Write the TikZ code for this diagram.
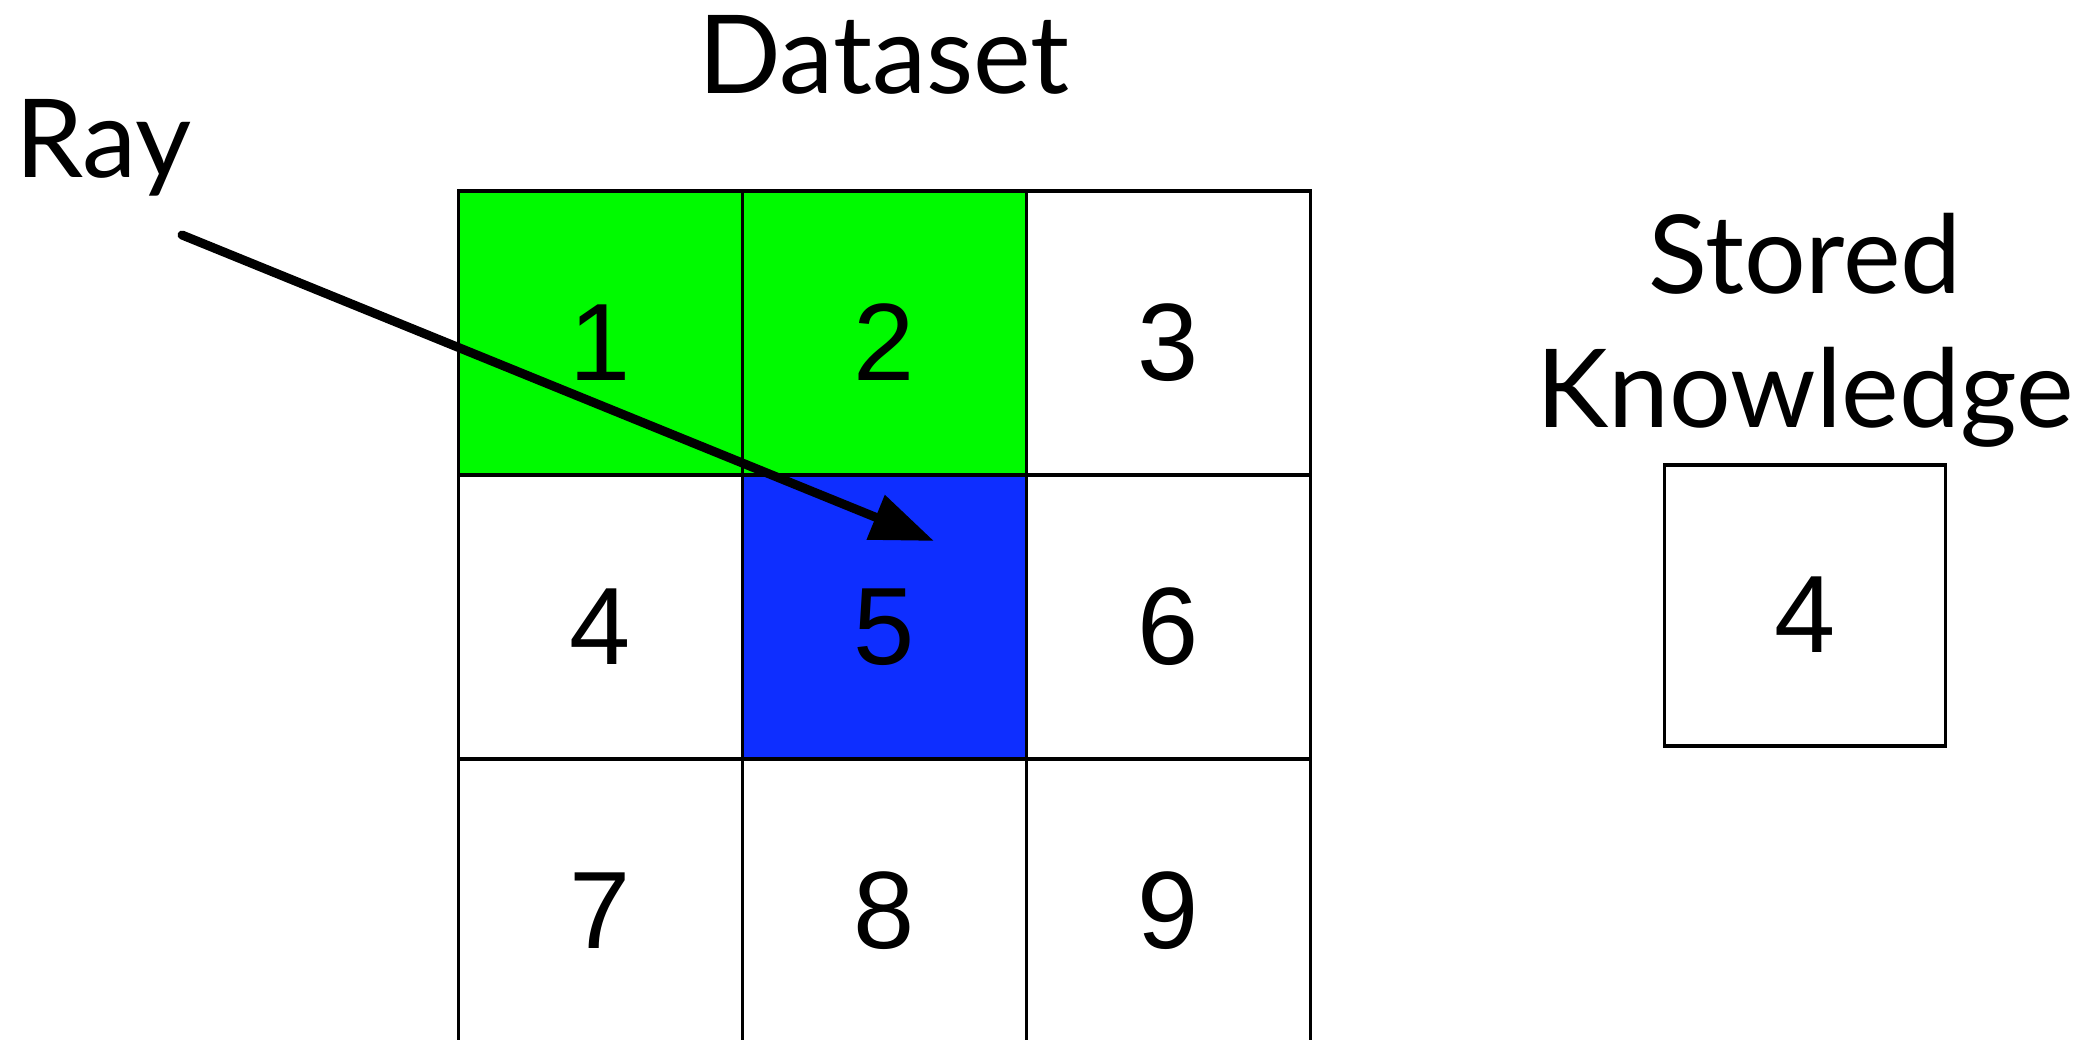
\documentclass[tikz,border=0pt]{standalone}
\usepackage{fontspec}
\setmainfont{Lato}
\newfontfamily\digitfont{Liberation Sans}
\usetikzlibrary{arrows.meta, positioning}

\definecolor{visitgreen}{RGB}{0,250,0}
\definecolor{hitblue}{RGB}{14,46,255}

\begin{document}
\begin{tikzpicture}[x=1pt, y=1pt,
    cell/.style={draw, line width=3.5pt, minimum size=284pt, inner sep=0pt, outer sep=0pt,
      text height=95pt, text depth=0pt, font=\digitfont\fontsize{110}{110}\selectfont},
    title/.style={font=\fontsize{109}{134}\selectfont, inner sep=0pt, anchor=base}]
    \useasboundingbox (0,0) rectangle (2096,1040);

    % dataset grid
    \node[cell, fill=visitgreen] (c1) at (600.5,707) {1};
    \node[cell, fill=visitgreen, right=0pt of c1] (c2) {2};
    \node[cell, right=0pt of c2] (c3) {3};
    \node[cell, below=0pt of c1] (c4) {4};
    \node[cell, fill=hitblue, right=0pt of c4] (c5) {5};
    \node[cell, right=0pt of c5] (c6) {6};
    \node[cell, below=0pt of c4] (c7) {7};
    \node[cell, right=0pt of c7] (c8) {8};
    \node[cell, right=0pt of c8] (c9) {9};

    % stored knowledge
    \node[cell, minimum size=281pt] (store) at (1805,434.5) {4};

    \node[title] (dataset) at (884,946) {Dataset};
    \node[title] (ray) at (103.5,862) {Ray};
    \node[title, align=center] (stored) at (1805,612) {Stored\\Knowledge};

    % the ray
    \coordinate (raystart) at (182,805);
    \coordinate (rayend) at (934,499);
    \draw[-{Triangle[length=63pt, width=46pt]}, line width=9pt, line cap=round] (raystart) -- (rayend);
\end{tikzpicture}
\end{document}
